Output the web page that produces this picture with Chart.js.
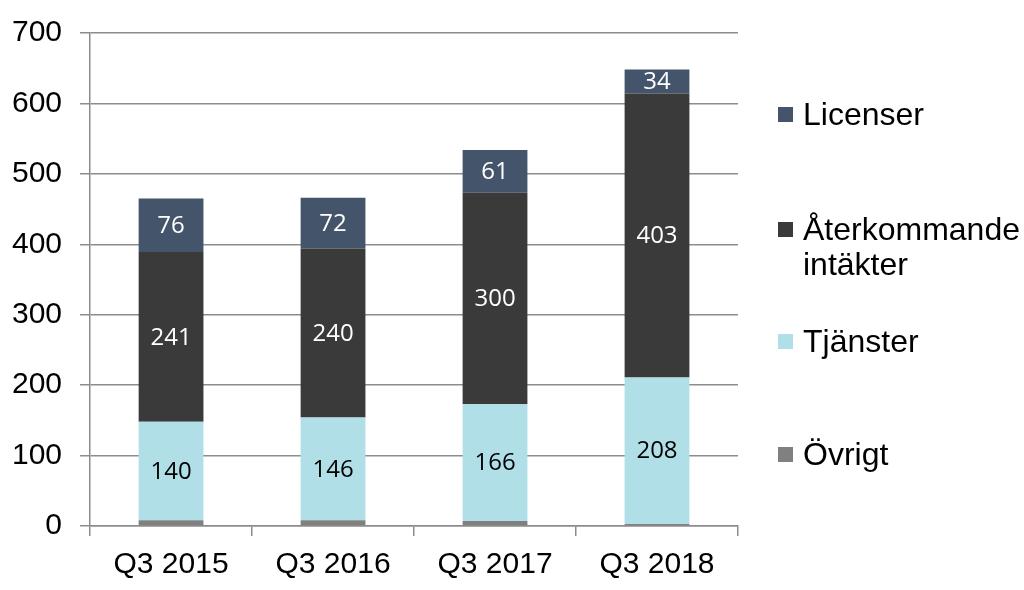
<!DOCTYPE html>
<html>
<head>
<meta charset="utf-8">
<script src="https://cdn.jsdelivr.net/npm/chart.js@4/dist/chart.umd.min.js"></script>
<style>
  html, body { margin: 0; padding: 0; background: #fff; }
  #wrap { position: relative; width: 1024px; height: 590px; }
  #legend { position: absolute; left: 778px; top: 0; font-family: "Liberation Sans", Arial, sans-serif; font-size: 32px; color: #000; }
  .item { position: absolute; left: 0; display: flex; align-items: flex-start; white-space: nowrap; line-height: 35px; }
  .box { width: 15px; height: 15px; margin-top: 10px; margin-right: 10px; flex: none; }
</style>
</head>
<body>
<div id="wrap">
  <canvas id="revChart" width="1024" height="590"></canvas>
  <div id="legend"></div>
</div>
<script>
const categories = ["Q3 2015", "Q3 2016", "Q3 2017", "Q3 2018"];
const ovrigt = [8, 8, 7, 3];
const tjanster = [140, 146, 166, 208];
const aterkommande = [241, 240, 300, 403];
const licenser = [76, 72, 61, 34];
const yTicks = [0, 100, 200, 300, 400, 500, 600, 700];

const seriesNames = ["Övrigt", "Tjänster", ["Återkommande", "intäkter"], "Licenser"];
const seriesColors = ["#808080", "#b0dfe7", "#3a3a3a", "#44546a"];
const labelColors = [null, "#000000", "#ffffff", "#ffffff"];
const legendTops = [437, 324, 212, 97]; // per series index

const dataLabels = {
  id: "dataLabels",
  afterDatasetsDraw(chart) {
    const ctx = chart.ctx;
    ctx.save();
    ctx.font = '24px "Open Sans", sans-serif';
    ctx.textAlign = "center";
    ctx.textBaseline = "middle";
    chart.data.datasets.forEach((ds, i) => {
      if (!labelColors[i]) return;
      const meta = chart.getDatasetMeta(i);
      meta.data.forEach((bar, j) => {
        ctx.fillStyle = labelColors[i];
        ctx.fillText(ds.data[j], bar.x, (bar.y + bar.base) / 2 + 1);
      });
    });
    ctx.restore();
  }
};

const values = [ovrigt, tjanster, aterkommande, licenser];
const axisFont = { family: '"Liberation Sans", Arial, sans-serif', size: 30 };

const chart = new Chart(document.getElementById("revChart"), {
  type: "bar",
  data: {
    labels: categories,
    datasets: values.map((v, i) => ({
      label: Array.isArray(seriesNames[i]) ? seriesNames[i].join(" ") : seriesNames[i],
      data: v,
      backgroundColor: seriesColors[i],
      borderWidth: 0,
      barPercentage: 0.4,
      categoryPercentage: 1.0
    }))
  },
  options: {
    responsive: false,
    animation: false,
    layout: { padding: { top: 21, right: 286, left: -6, bottom: -4 } },
    plugins: { legend: { display: false }, tooltip: { enabled: false } },
    scales: {
      x: {
        stacked: true,
        grid: { display: true, offset: true, drawOnChartArea: false, tickLength: 10, color: "#8c8c8c", lineWidth: 1.5 },
        border: { color: "#8c8c8c", width: 1.5 },
        ticks: { color: "#000", font: axisFont, padding: 11 }
      },
      y: {
        stacked: true,
        min: 0,
        max: 700,
        afterBuildTicks(axis) { axis.ticks = yTicks.map(v => ({ value: v })); },
        grid: { color: "#8c8c8c", lineWidth: 1.5, tickLength: 10 },
        border: { color: "#8c8c8c", width: 1.5 },
        ticks: { color: "#000", font: { ...axisFont, lineHeight: 1.0 }, padding: 18 }
      }
    }
  },
  plugins: [dataLabels]
});

const legend = document.getElementById("legend");
chart.data.datasets.forEach((ds, i) => {
  const item = document.createElement("div");
  item.className = "item";
  item.style.top = legendTops[i] + "px";
  const box = document.createElement("span");
  box.className = "box";
  box.style.background = ds.backgroundColor;
  const txt = document.createElement("span");
  txt.innerHTML = [].concat(seriesNames[i]).join("<br>");
  item.appendChild(box);
  item.appendChild(txt);
  legend.appendChild(item);
});
</script>
</body>
</html>
